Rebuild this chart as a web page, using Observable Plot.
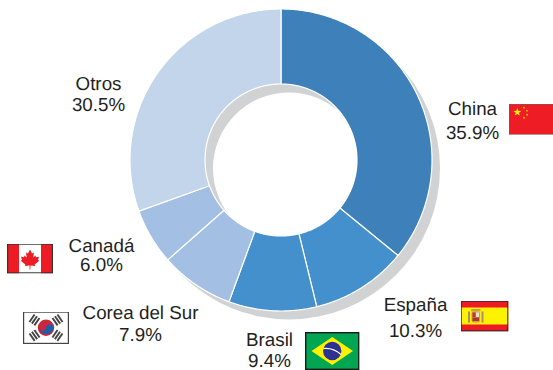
<!DOCTYPE html>
<html>
<head>
<meta charset="utf-8">
<script src="https://cdn.jsdelivr.net/npm/d3@7"></script>
<script src="https://cdn.jsdelivr.net/npm/@observablehq/plot@0.6"></script>
<style>html,body{margin:0;padding:0;background:#fff}svg{display:block;text-rendering:geometricPrecision}</style>
</head>
<body>
<div id="chart"></div>
<script>
const categories = ["China", "España", "Brasil", "Corea del Sur", "Canadá", "Otros"];
const shares = [35.9, 10.3, 9.4, 7.9, 6.0, 30.5];
const shareLabels = ["35.9%", "10.3%", "9.4%", "7.9%", "6.0%", "30.5%"];
const sliceColors = ["#3e80b9", "#4490cc", "#4490cc", "#a3c0e4", "#a3c0e4", "#c3d5ea"];

const nameX = [472, 415, 269, 140, 101, 98];
const nameY = [114, 310, 345, 318, 251, 89];
const shareX = [472, 415, 269, 140, 101, 98];
const shareY = [138, 336, 366, 340, 270, 110];

const flagLeft = [508.5, 460, 304.5, 22.5, 6.5, 0];
const flagRight = [553, 508, 359, 68.5, 52.5, 0];
const flagTop = [103.5, 300, 331.5, 311, 243, 0];
const flagBottom = [134, 331, 369.5, 343.5, 273, 0];

const center = [280.5, 159.5];
const shadowOffset = [8, 8.5];
const outerR = 151, innerR = 76;

const star = (cx, cy, r, rot = 0) => {
  const p = [];
  for (let i = 0; i < 10; i++) {
    const a = rot - Math.PI / 2 + i * Math.PI / 5, q = i % 2 ? r * 0.4 : r;
    p.push((cx + q * Math.cos(a)).toFixed(2) + "," + (cy + q * Math.sin(a)).toFixed(2));
  }
  return `<polygon points="${p.join(" ")}" fill="#fff200"/>`;
};
const frame = (w, h, c, sw = 1.2) => `<rect x="${sw/2}" y="${sw/2}" width="${w-sw}" height="${h-sw}" fill="none" stroke="${c}" stroke-width="${sw}"/>`;
const svgDoc = (w, h, body) => "data:image/svg+xml;charset=utf-8," + encodeURIComponent(
  `<svg xmlns="http://www.w3.org/2000/svg" width="${w}" height="${h}" viewBox="0 0 ${w} ${h}" preserveAspectRatio="none">${body}</svg>`);

const trigram = (cx, cy, rot) => `<g transform="translate(${cx} ${cy}) rotate(${rot})" fill="#444">
  <rect x="-4.5" y="-4" width="9" height="1.9"/><rect x="-4.5" y="-1" width="9" height="1.9"/><rect x="-4.5" y="2" width="9" height="1.9"/></g>`;

const flagArt = {
  "China": svgDoc(44.5, 30.5, `<rect width="44.5" height="30.5" fill="#ee1c25"/>${star(8.3, 8.2, 4.2)}${star(15, 3.6, 1.4)}${star(18, 6.6, 1.4)}${star(18, 10.6, 1.4)}${star(15, 13.6, 1.4)}<path d="M0 0H44.5" stroke="#666" stroke-width="1.2"/><path d="M0 30.5H44.5" stroke="#666" stroke-width="1.2"/><path d="M0 0V30.5" stroke="#666" stroke-width="1.2"/>`),
  "España": svgDoc(48, 31, `<rect width="48" height="31" fill="#ed1c24"/><rect y="7" width="48" height="17" fill="#fff200"/>
    <rect x="10.5" y="8.5" width="9.5" height="2.5" rx="1" fill="#c9a04a"/>
    <rect x="11" y="11" width="8.5" height="11" rx="2" fill="#c9a04a"/><rect x="12" y="12" width="3" height="4.5" fill="#c8342f"/><rect x="15.5" y="12" width="3" height="4.5" fill="#e8e0d8"/><rect x="12" y="17" width="6.5" height="3.5" fill="#b5332e"/>
    <rect x="7.5" y="11" width="2" height="11" fill="#a98d78"/><rect x="21" y="11" width="2" height="11" fill="#a98d78"/>
    ${frame(48, 31, "#2a2a2a")}`),
  "Brasil": svgDoc(54.5, 38, `<rect width="54.5" height="38" fill="#00a651"/><polygon points="27.25,5 48,19 27.25,33 6.5,19" fill="#fff200"/><circle cx="27.25" cy="19" r="9.2" fill="#2e3192"/><path d="M18.5 16.5 Q28 15.5 36 22.5" fill="none" stroke="#fff" stroke-width="1.1"/>${frame(54.5, 38, "#1a1a1a", 1.4)}`),
  "Corea del Sur": svgDoc(46, 32.5, `<rect width="46" height="32.5" fill="#fff"/>${trigram(11.5, 8.5, -55)}${trigram(34.5, 8.5, 55)}${trigram(11.5, 24, 55)}${trigram(34.5, 24, -55)}
    <circle cx="23" cy="16.2" r="8.2" fill="#c8283c"/><path d="M15 16.2 A4.1 4.1 0 0 0 23 16.2 A4.1 4.1 0 0 1 31 16.2 A8.2 8.2 0 0 1 15 16.2Z" fill="#1c5fa8"/>${frame(46, 32.5, "#444")}`),
  "Canadá": svgDoc(46, 30, `<rect width="46" height="30" fill="#fff"/><rect width="12" height="30" fill="#ed1c24"/><rect x="34" width="12" height="30" fill="#ed1c24"/>
    <path d="M23 6 L25 10 L27 9 L26.2 14 L28.5 12 L29 13.7 L32 13.2 L31 16.5 L32.3 17.2 L27.6 21 L28.2 22.6 L23.4 22 L23.4 26 L22.6 26 L22.6 22 L17.8 22.6 L18.4 21 L13.7 17.2 L15 16.5 L14 13.2 L17 13.7 L17.5 12 L19.8 14 L19 9 L21 10Z" fill="#ed1c24"/>${frame(46, 30, "#333")}`)
};

const arcs = d3.pie().sort(null).startAngle(0).endAngle(2 * Math.PI)(shares);
const ringPoints = [];
arcs.forEach((arc, i) => {
  const n = Math.max(2, Math.ceil((arc.endAngle - arc.startAngle) * 120));
  const at = (r, t) => ({
    name: categories[i],
    px: center[0] + r * Math.sin(t),
    py: center[1] - r * Math.cos(t)
  });
  for (let k = 0; k <= n; k++) ringPoints.push(at(outerR, arc.startAngle + (arc.endAngle - arc.startAngle) * k / n));
  for (let k = n; k >= 0; k--) ringPoints.push(at(innerR, arc.startAngle + (arc.endAngle - arc.startAngle) * k / n));
});

const labelIndex = d3.range(categories.length);
const flagIndex = labelIndex.slice(0, 5);

const plot = Plot.plot({
  width: 553,
  height: 370,
  margin: 0,
  style: {background: "#fff", fontFamily: "'Liberation Sans', Arial, sans-serif"},
  x: {domain: [0, 553], axis: null},
  y: {domain: [370, 0], axis: null},
  color: {domain: categories, range: sliceColors},
  marks: [
    Plot.dot([0], {x: () => center[0] + shadowOffset[0], y: () => center[1] + shadowOffset[1], r: outerR, fill: "#d1d2d4", stroke: "none"}),
    Plot.dot([0], {x: () => center[0] + shadowOffset[0], y: () => center[1] + shadowOffset[1], r: innerR, fill: "#fff", stroke: "none"}),
    Plot.line(ringPoints, {x: "px", y: "py", z: "name", fill: "name", stroke: "#fff", strokeWidth: 1.2, curve: "linear-closed", strokeLinejoin: "round"}),
    Plot.image(flagIndex, {
      x: i => (flagLeft[i] + flagRight[i]) / 2,
      y: i => (flagTop[i] + flagBottom[i]) / 2,
      width: i => flagRight[i] - flagLeft[i],
      height: i => flagBottom[i] - flagTop[i],
      src: i => flagArt[categories[i]],
      preserveAspectRatio: "none"
    }),
    Plot.text(labelIndex, {x: i => nameX[i], y: i => nameY[i], text: i => categories[i], fontSize: 18.8, fill: "#231f20", lineAnchor: "bottom", textAnchor: "middle"}),
    Plot.text(labelIndex, {x: i => shareX[i], y: i => shareY[i], text: i => shareLabels[i], fontSize: 18.8, fill: "#231f20", lineAnchor: "bottom", textAnchor: "middle"})
  ]
});
document.getElementById("chart").appendChild(plot);
</script>
</body>
</html>
